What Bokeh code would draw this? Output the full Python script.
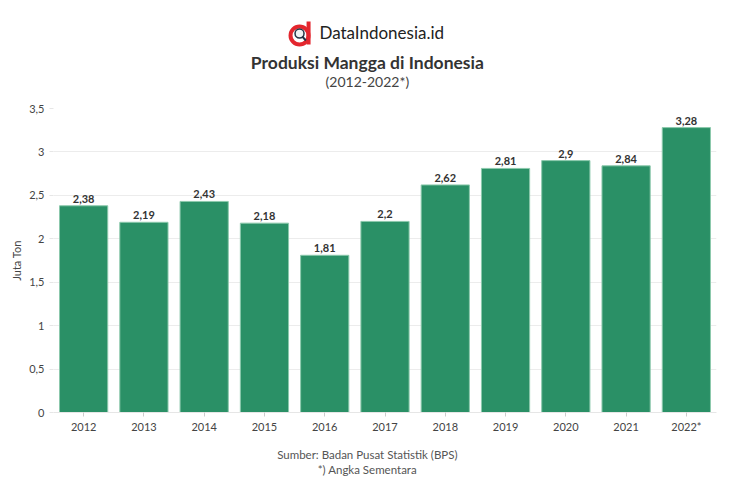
from bokeh.plotting import figure
from bokeh.layouts import column
from bokeh.models import ColumnDataSource, FixedTicker, Range1d
from bokeh.core.properties import value
from bokeh.embed import file_html
from bokeh.resources import INLINE

years = ["2012", "2013", "2014", "2015", "2016", "2017", "2018", "2019", "2020", "2021", "2022*"]
values = [2.38, 2.19, 2.43, 2.18, 1.81, 2.2, 2.62, 2.81, 2.9, 2.84, 3.28]
value_labels = [f"{v:g}".replace(".", ",") for v in values]
y_ticks = [0, 0.5, 1, 1.5, 2, 2.5, 3, 3.5]
y_tick_labels = ["0", "0,5", "1", "1,5", "2", "2,5", "3", "3,5"]

FONT = "Lato"
W = 733
HEAD_H, MAIN_H, FOOT_H = 100, 340, 45
DX = -20  # horizontal correction for the text-only panels


def blank_fig(h):
    f = figure(width=W, height=h, x_range=Range1d(0, W), y_range=Range1d(h, 0),
               x_axis_type=None, y_axis_type=None, output_backend="svg",
               toolbar_location=None, min_border=0)
    f.outline_line_color = None
    f.grid.grid_line_color = None
    return f


def txt(f, x, y, text, size, color, style="normal", align="center"):
    f.text(x=[x + DX], y=[y], text=[text], text_align=align, text_baseline="middle",
           text_font=value(FONT), text_font_size=size, text_color=color,
           text_font_style=style)


# ---------- header ----------
head = blank_fig(HEAD_H)
# logo icon
head.segment(x0=[302 + DX], y0=[21], x1=[302 + DX], y1=[44], line_color="#e3262e", line_width=4)
head.scatter(x=[292 + DX], y=[35], size=18, marker="circle", fill_color=None,
             line_color="#e3262e", line_width=4)
head.scatter(x=[292 + DX], y=[33], size=9, marker="circle", fill_color="#eef3f3",
             line_color="#223344", line_width=1.5)
head.segment(x0=[295 + DX], y0=[36], x1=[299 + DX], y1=[40], line_color="#223344", line_width=2)
txt(head, 314, 32, "DataIndonesia.id", "17px", "#222222", align="left")
txt(head, 367, 62, "Produksi Mangga di Indonesia", "17.5px", "#333333", "bold")
txt(head, 367, 81, "(2012-2022*)", "14px", "#444444")

# ---------- main chart ----------
src = ColumnDataSource(dict(x=years, top=values, lab=value_labels))

p = figure(x_range=years, y_range=(0, 3.5), width=W, height=MAIN_H,
           output_backend="svg", toolbar_location=None,
           min_border_top=8, min_border_bottom=28, min_border_left=53, min_border_right=17)
p.outline_line_color = None

p.vbar(x="x", top="top", width=0.8, source=src, fill_color="#2a9066",
       line_color="#8cc9ac", line_width=1)
p.text(x="x", y="top", text="lab", source=src, text_align="center",
       text_baseline="bottom", y_offset=-3, text_font=value(FONT),
       text_font_size="11px", text_font_style="bold", text_color="#333333")

p.yaxis.ticker = FixedTicker(ticks=y_ticks)
p.yaxis.major_label_overrides = {t: l for t, l in zip(y_ticks, y_tick_labels)}
p.yaxis.axis_label = "Juta Ton"
p.yaxis.axis_label_text_font = FONT
p.yaxis.axis_label_text_font_size = "11px"
p.yaxis.axis_label_text_font_style = "normal"
p.yaxis.axis_label_text_color = "#444444"
p.yaxis.axis_label_standoff = 3
p.yaxis.axis_line_color = None
p.yaxis.major_tick_line_color = "#e6e6e6"
p.yaxis.major_tick_out = 4
p.yaxis.major_tick_in = 0
p.yaxis.minor_tick_line_color = None

for ax in (p.xaxis, p.yaxis):
    ax.major_label_text_font = FONT
    ax.major_label_text_font_size = "11px"
    ax.major_label_text_color = "#444444"

p.xaxis.axis_line_color = "#e6e6e6"
p.xaxis.major_tick_line_color = "#cccccc"
p.xaxis.major_tick_out = 4
p.xaxis.major_tick_in = 0
p.xaxis.major_label_standoff = 3

p.xgrid.grid_line_color = None
p.ygrid.grid_line_color = "#ececec"

# ---------- footer ----------
foot = blank_fig(FOOT_H)
txt(foot, 367, 14, "Sumber: Badan Pusat Statistik (BPS)", "11.5px", "#555555")
txt(foot, 367, 29, "*) Angka Sementara", "11.5px", "#555555")

layout = column(head, p, foot, spacing=0)
open("out.html", "w").write(file_html(layout, INLINE))
